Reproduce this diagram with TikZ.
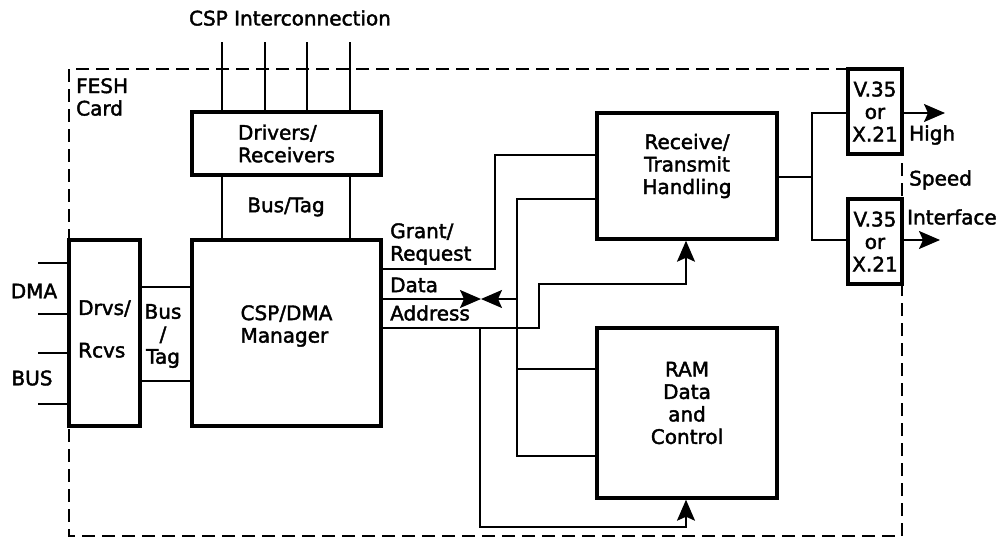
\documentclass[tikz,border=0pt]{standalone}
\usepackage{fontspec}
\setmainfont{DejaVu Sans}[FakeBold=2]
\usetikzlibrary{arrows.meta}
\newcommand{\dfont}{\fontsize{20}{22.5}\selectfont}
\begin{document}
\begin{tikzpicture}[x=1pt,y=-1pt,
  box/.style={draw, line width=3.4pt, fill=white, inner sep=0pt, align=center, font=\dfont},
  wire/.style={line width=1.8pt},
  arr/.style={wire, -{Stealth[length=21pt,width=18pt,inset=4pt]}},
  lbl/.style={inner sep=0pt, font=\dfont, align=center},
  border/.style={line width=2.2pt, dash pattern=on 13pt off 7pt}
]
\useasboundingbox (0,0) rectangle (1005,538);
% card border
\draw[border] (69,69) rectangle (902,536);

% boxes
\node[box, minimum width=189pt, minimum height=63pt, align=left] (drv) at (286.5,143.5) {Drivers/\\Receivers};
\node[box, minimum width=189pt, minimum height=186pt,
  label={[lbl, align=left, yshift=7pt]center:{CSP/DMA\\Manager}}] (mgr) at (286.5,333) {};
\node[box, minimum width=71pt, minimum height=186pt,
  label={[lbl, align=left, yshift=4pt]center:{Drvs/\\[20pt]Rcvs}}] (drvs) at (104.5,333) {};
\node[box, minimum width=180pt, minimum height=126pt,
  label={[lbl, yshift=10pt]center:{Receive/\\Transmit\\Handling}}] (rt) at (687,176) {};
\node[box, minimum width=180pt, minimum height=170pt,
  label={[lbl, yshift=10pt]center:{RAM\\Data\\and\\Control}}] (ram) at (687,413) {};
\node[box, minimum width=54pt, minimum height=85pt] (v1) at (875,111.5) {V.35\\or\\X.21};
\node[box, minimum width=54pt, minimum height=85pt] (v2) at (875,241.5) {V.35\\or\\X.21};

% labels
\node[lbl] (title) at (290,18) {CSP Interconnection};
\node[lbl, align=left, anchor=west] (fesh) at (76,97) {FESH\\Card};
\node[lbl] (bustag) at (286,207) {Bus/Tag};
\node[lbl, align=left, anchor=west] (grant) at (390,244) {Grant/\\Request};
\node[lbl, anchor=west] (data) at (390,285) {Data};
\node[lbl, anchor=west] (addr) at (390,313) {Address};
\node[lbl] (dma) at (34,291) {DMA};
\node[lbl] (bus) at (32,378) {BUS};
\node[lbl] (bt) at (163,336) {Bus\\/\\Tag};
\node[lbl, anchor=west] (high) at (909,135) {High};
\node[lbl, anchor=west] (speed) at (909,180) {Speed};
\node[lbl, anchor=west] (intf) at (907,217) {Interface};

% CSP interconnection lines
\foreach \n/\x in {c1/222,c2/265,c3/307,c4/350}{
  \coordinate (\n) at (\x,42);
  \draw[wire] (\n) -- (\n |- drv.north);
}
\draw[wire] (c1 |- drv.south) -- (c1 |- mgr.north);
\draw[wire] (c4 |- drv.south) -- (c4 |- mgr.north);

% DMA bus lines
\foreach \n/\y in {d1/263,d2/314,d3/353,d4/404}{
  \coordinate (\n) at (38,\y);
  \draw[wire] (\n) -- (\n -| drvs.west);
}
% bus/tag between drvs and manager
\coordinate (bt1) at (160,287);
\coordinate (bt2) at (160,381);
\draw[wire] (bt1 -| drvs.east) -- (bt1 -| mgr.west);
\draw[wire] (bt2 -| drvs.east) -- (bt2 -| mgr.west);

% grant/request
\coordinate (g1) at (495,269);
\coordinate (g2) at (495,155);
\draw[wire] (g1 -| mgr.east) -- (g1) -- (g2) -- (g2 -| rt.west);

% data
\coordinate (dm) at (481,299);
\coordinate (bx) at (517,299);
\draw[arr] (dm -| mgr.east) -- (dm);
\draw[arr] (bx) -- (dm);
\coordinate (b1) at (517,199);
\coordinate (b3) at (517,369);
\coordinate (b4) at (517,456);
\draw[wire] (b1 -| rt.west) -- (b1) -- (b4) -- (b4 -| ram.west);
\draw[wire] (b3) -- (b3 -| ram.west);

% address
\coordinate (a1) at (539,328);
\coordinate (a2) at (539,284);
\coordinate (a3) at (686,284);
\draw[arr] (a1 -| mgr.east) -- (a1) -- (a2) -- (a3) -- (a3 |- rt.south);
\coordinate (a4) at (480,328);
\coordinate (a5) at (480,527);
\coordinate (a6) at (686,527);
\draw[arr] (a4) -- (a5) -- (a6) -- (a6 |- ram.south);

% to interfaces
\coordinate (r1) at (812,177);
\coordinate (r2) at (812,113);
\coordinate (r3) at (812,240);
\draw[wire] (r1 -| rt.east) -- (r1);
\draw[wire] (r2 -| v1.west) -- (r2) -- (r3) -- (r3 -| v2.west);
\coordinate (o1) at (945,113);
\coordinate (o2) at (940,240);
\draw[arr] (o1 -| v1.east) -- (o1);
\draw[arr] (o2 -| v2.east) -- (o2);
\end{tikzpicture}
\end{document}
